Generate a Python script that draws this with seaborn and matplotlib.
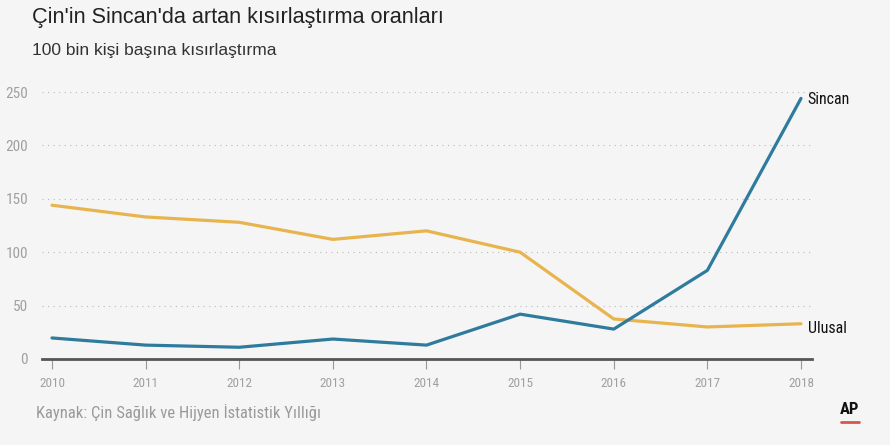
import matplotlib
matplotlib.use("Agg")
import matplotlib.pyplot as plt
import seaborn as sns
import pandas as pd
from matplotlib import font_manager

years = [2010, 2011, 2012, 2013, 2014, 2015, 2016, 2017, 2018]
sincan = [19.7, 13, 11, 18.7, 13, 42, 28, 83, 244]
ulusal = [144, 133, 128, 112, 120, 100, 37.5, 30, 33]
series_names = ["Sincan", "Ulusal"]
yticks = [0, 50, 100, 150, 200, 250]

df = pd.DataFrame({
    "year": years * 2,
    "value": sincan + ulusal,
    "series": ["Sincan"] * len(years) + ["Ulusal"] * len(years),
})

sns.set_theme(style="white")
avail = {f.name for f in font_manager.fontManager.ttflist}
narrow = next((n for n in ["Roboto Condensed", "Archivo Narrow", "Asap Condensed",
                           "Barlow Semi Condensed", "Liberation Sans Narrow"] if n in avail),
              "DejaVu Sans")
head = next((n for n in ["Liberation Sans", "Arimo", "Roboto"] if n in avail), "DejaVu Sans")
plt.rcParams['font.family'] = [narrow, 'DejaVu Sans']

bg = "#f5f5f5"
fig = plt.figure(figsize=(8.9, 4.45), dpi=100, facecolor=bg)
ax = fig.add_axes([42/890, 1-359/445, (812-42)/890, (359-92)/445])
ax.set_facecolor(bg)

palette = {"Sincan": "#2f7b9e", "Ulusal": "#e8b44e"}
sns.lineplot(data=df, x="year", y="value", hue="series", palette=palette,
             linewidth=2.3, ax=ax, legend=False, hue_order=["Ulusal", "Sincan"])

ax.set_xlim(2010 - 10/93.6, 2018 + 11/93.6)
ax.set_ylim(0, 250)
ax.set_yticks(yticks)
ax.set_yticklabels([str(v) for v in yticks])
ax.set_xticks(years)
ax.set_xticklabels([str(y) for y in years])
ax.set_xlabel("")
ax.set_ylabel("")

for v in yticks[1:]:
    ax.axhline(v, color="#b8b8b8", linestyle=(0, (1, 4)), linewidth=0.8, zorder=0)

for s in ["top", "right", "left"]:
    ax.spines[s].set_visible(False)
ax.spines["bottom"].set_color("#555555")
ax.spines["bottom"].set_linewidth(2)

ax.tick_params(axis="x", which="both", bottom=True, length=7, width=0.8,
               color="#999999", labelsize=9.5, labelcolor="#a0a0a0", pad=6)
ax.tick_params(axis="y", left=False, labelsize=11, labelcolor="#a0a0a0", pad=4)

ax.text(2018 + 0.07, sincan[-1] - 1, "Sincan", fontsize=11.5, color="#111111",
        va="center", ha="left")
ax.text(2018 + 0.07, ulusal[-1] - 4, "Ulusal", fontsize=11.5, color="#111111",
        va="center", ha="left")

fig.text(32/890, 1-18/445, "Çin'in Sincan'da artan kısırlaştırma oranları",
         fontsize=15.6, color="#222222", va="center", ha="left", family=head)
fig.text(32/890, 1-50/445, "100 bin kişi başına kısırlaştırma",
         fontsize=12.5, color="#333333", va="center", ha="left", family=head)
fig.text(36/890, 1-412/445, "Kaynak: Çin Sağlık ve Hijyen İstatistik Yıllığı",
         fontsize=12, color="#9a9a9a", va="center", ha="left")
fig.text(850/890, 1-410/445, "AP", fontsize=12, fontweight="bold", color="#111111",
         va="center", ha="center")
fig.add_artist(plt.Line2D([841/890, 859/890], [1-422/445, 1-422/445],
                          color="#d9534f", linewidth=2, transform=fig.transFigure))

fig.savefig("out.png", dpi=100, facecolor=bg)
